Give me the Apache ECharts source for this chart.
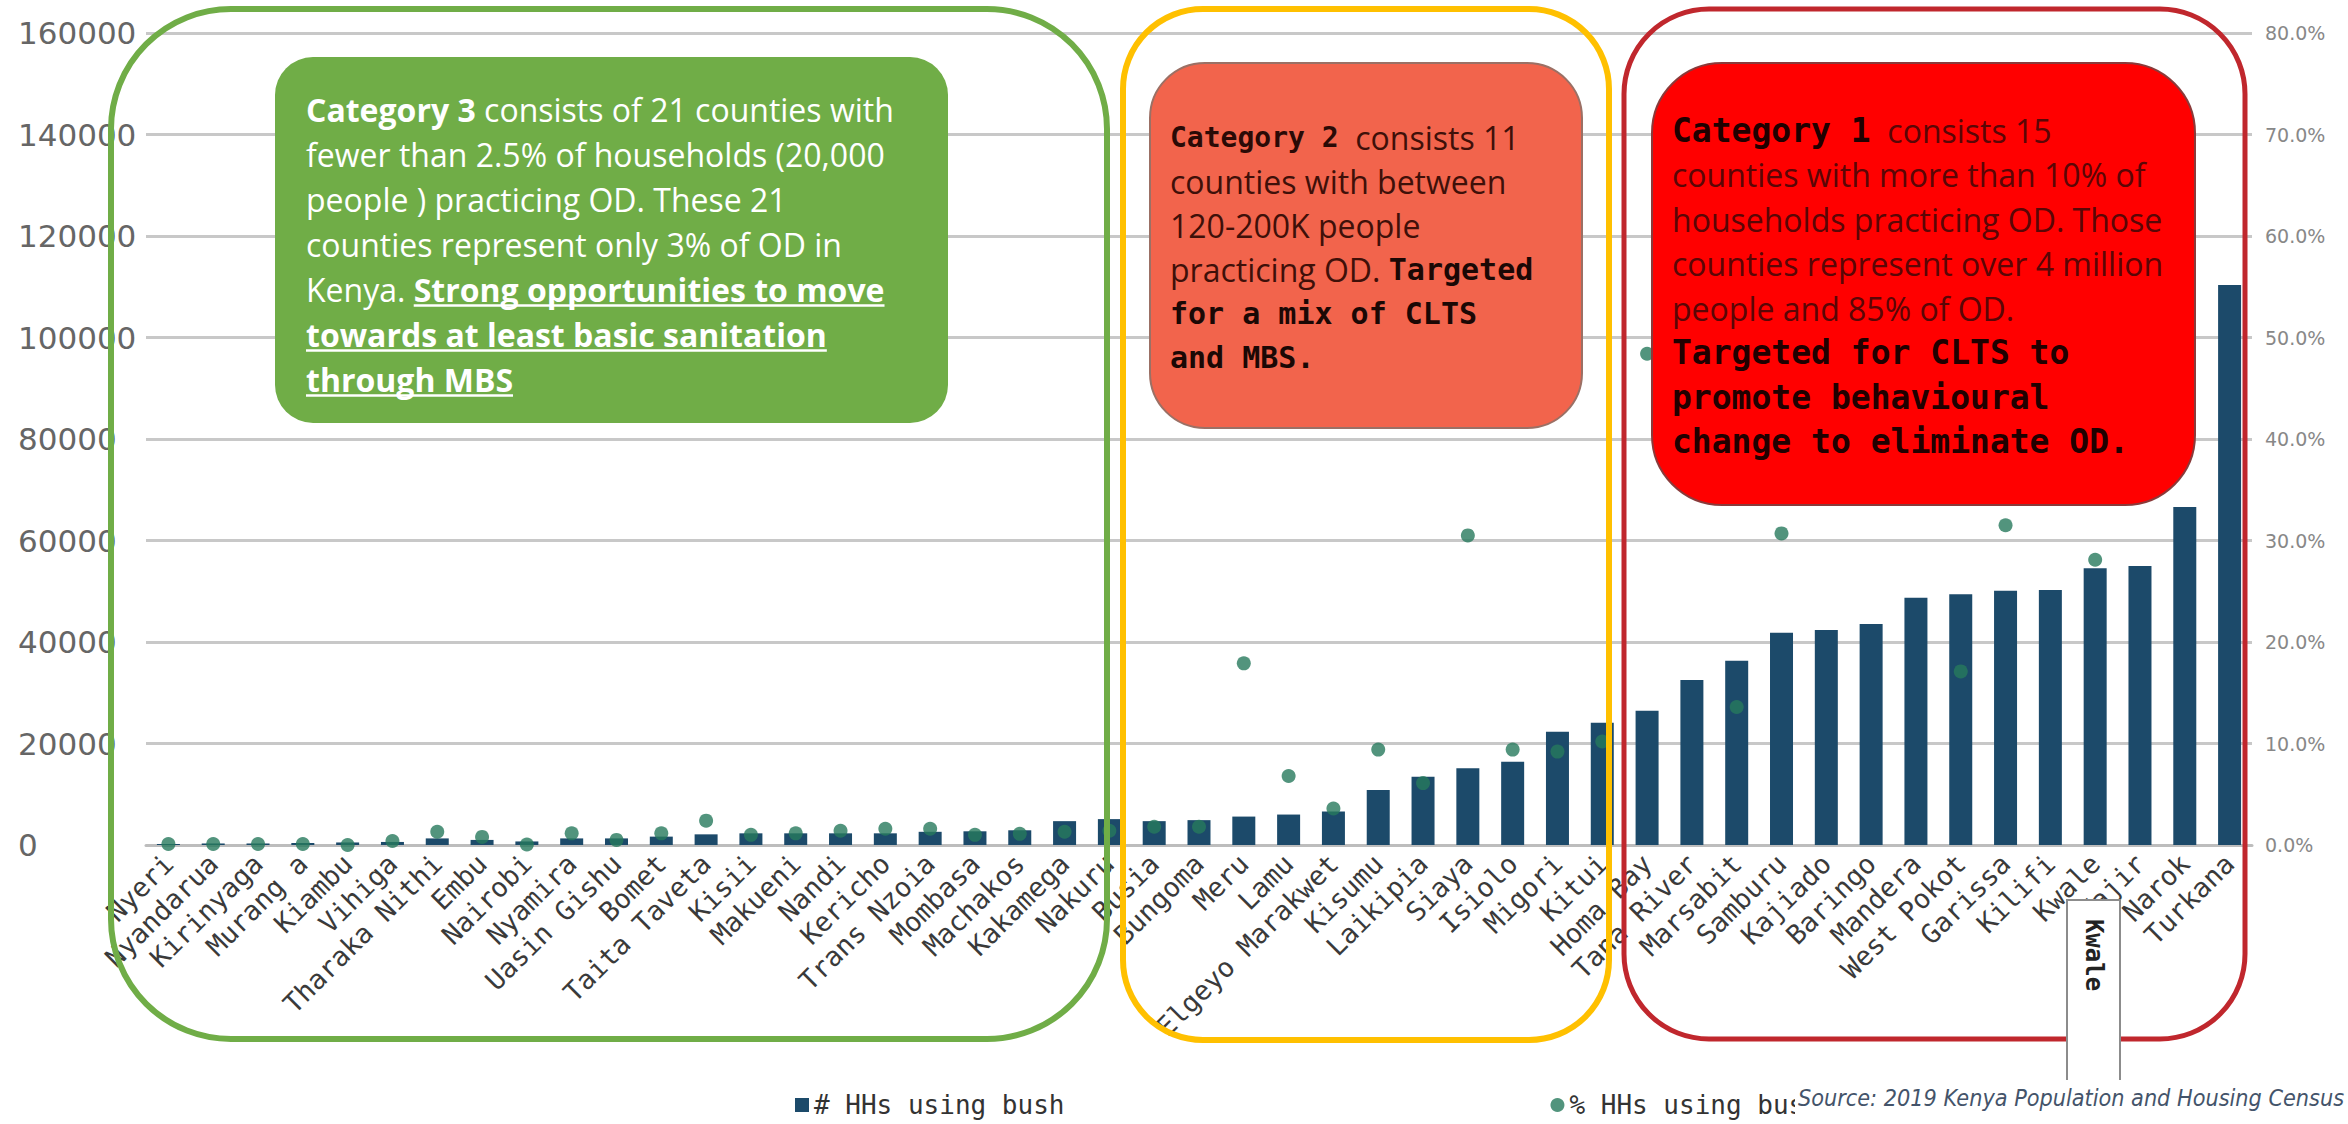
<!DOCTYPE html>
<html><head><meta charset="utf-8">
<script src="https://cdn.jsdelivr.net/npm/echarts@6/dist/echarts.min.js"></script>
<style>html,body{margin:0;padding:0;background:#fff}#c{width:2348px;height:1124px}</style>
</head><body><div id="c"></div>
<script>
const counties = ["Nyeri","Nyandarua","Kirinyaga","Murang a","Kiambu","Vihiga","Tharaka Nithi","Embu","Nairobi","Nyamira","Uasin Gishu","Bomet","Taita Taveta","Kisii","Makueni","Nandi","Kericho","Trans Nzoia","Mombasa","Machakos","Kakamega","Nakuru","Busia","Bungoma","Meru","Lamu","Elgeyo Marakwet","Kisumu","Laikipia","Siaya","Isiolo","Migori","Kitui","Homa Bay","Tana River","Marsabit","Samburu","Kajiado","Baringo","Mandera","West Pokot","Garissa","Kilifi","Kwale","Wajir","Narok","Turkana"];
const households = [200,300,300,400,500,600,1300,1000,700,1300,1300,1650,2100,2300,2300,2300,2300,2600,2700,2900,4700,5100,4700,4900,5600,6000,6600,10840,13460,15110,16420,22330,24100,26460,32510,36320,41840,42360,43550,48730,49400,50110,50250,54520,54980,66600,110340];
const percentHH = [0.1,0.1,0.1,0.1,0,0.4,1.3,0.8,0.05,1.15,0.5,1.15,2.4,1.0,1.15,1.4,1.6,1.6,1.0,1.1,1.3,1.4,1.8,1.8,17.9,6.8,3.6,9.4,6.1,30.5,9.4,9.2,10.2,48.4,44.0,13.6,30.7,40.5,47.0,61.0,17.1,31.5,36.0,28.1,66.0,50.0,null];
const seriesNames = ["# HHs using bush", "% HHs using bush"];
const leftAxis = {min: 0, max: 160000, interval: 20000};
const rightAxis = {min: 0, max: 80, interval: 10};
const sourceText = "Source: 2019 Kenya Population and Housing Census";

const chart = echarts.init(document.getElementById('c'), null, {renderer: 'svg'});

const measure = (() => {
  const cv = document.createElement('canvas').getContext('2d');
  return (txt, font) => { cv.font = font; return cv.measureText(txt).width; };
})();

// Green box text
const gFont = '"Open Sans", "Lato", sans-serif';
const gSize = 32, gLH = 45, gX = 306, gTop = 87;
const greenText = [
  '{b|Category 3}{n| consists of 21 counties with}',
  '{n|fewer than 2.5% of households (20,000}',
  '{n|people ) practicing OD. These 21}',
  '{n|counties represent only 3% of OD in}',
  '{n|Kenya. }{b|Strong opportunities to move}',
  '{b|towards at least basic sanitation}',
  '{b|through MBS}'
].join('\n');
const underlines = [
  {line: 4, pre: 'Kenya. ', txt: 'Strong opportunities to move'},
  {line: 5, pre: '', txt: 'towards at least basic sanitation'},
  {line: 6, pre: '', txt: 'through MBS'}
].map(u => {
  const x0 = gX + measure(u.pre, gSize + 'px ' + gFont);
  const w = measure(u.txt, 'bold ' + gSize + 'px ' + gFont);
  const y = gTop + gLH * (u.line + 0.5) + 16;
  return {type: 'line', z: 101, shape: {x1: x0, y1: y, x2: x0 + w, y2: y}, style: {stroke: '#fff', lineWidth: 2.5}};
});

const mono = '"DejaVu Sans Mono", monospace';
const sans = '"Open Sans", "Lato", sans-serif';

const orangeText = [
  '{m2|Category 2}{s|  consists 11}',
  '{s|counties with between}',
  '{s|120-200K people}',
  '{s|practicing OD. }{m|Targeted}',
  '{m|for a mix of CLTS}',
  '{m|and MBS.}'
].join('\n');
const redText = [
  '{m|Category 1}{s|  consists 15}',
  '{s|counties with more than 10% of}',
  '{s|households practicing OD. Those}',
  '{s|counties represent over 4 million}',
  '{s|people and 85% of OD.}',
  '{m|Targeted for CLTS to}',
  '{m|promote behavioural}',
  '{m|change to eliminate OD.}'
].join('\n');

// source text fitted to the right edge
const srcFontFam = '"Liberation Sans Narrow", "DejaVu Sans Condensed", "Open Sans", sans-serif';
const srcX = 1798;
const srcW0 = measure(sourceText, 'italic 25px ' + srcFontFam);
const srcSize = Math.min(27, 25 * (2344 - srcX) / srcW0);

const graphics = [
  // green filled box
  {type: 'rect', z: 100, shape: {x: 275, y: 57, width: 673, height: 366, r: 38}, style: {fill: '#70AD47'}},
  {type: 'text', z: 101, x: gX, y: gTop, style: {
    text: greenText, verticalAlign: 'top', align: 'left', fill: '#fff',
    rich: {
      n: {fontFamily: gFont, fontSize: gSize, lineHeight: gLH, fill: '#fff', color: '#fff'},
      b: {fontFamily: gFont, fontSize: gSize, lineHeight: gLH, fontWeight: 'bold', fill: '#fff', color: '#fff'}
    }}},
  ...underlines,
  // orange box
  {type: 'rect', z: 100, shape: {x: 1150, y: 63, width: 432, height: 365, r: 55}, style: {fill: '#F2644C', stroke: '#9b7065', lineWidth: 2}},
  {type: 'text', z: 101, x: 1170, y: 115, style: {
    text: orangeText, verticalAlign: 'top', align: 'left',
    rich: {
      s: {fontFamily: sans, fontSize: 32, lineHeight: 44, fill: '#3f1009', color: '#3f1009'},
      m: {fontFamily: mono, fontSize: 30, lineHeight: 44, fontWeight: 'bold', fill: '#1b0805', color: '#1b0805'},
      m2: {fontFamily: mono, fontSize: 28, lineHeight: 44, fontWeight: 'bold', fill: '#2a0a06', color: '#2a0a06'}
    }}},
  // red box
  {type: 'rect', z: 100, shape: {x: 1652, y: 63, width: 543, height: 442, r: 70}, style: {fill: '#FF0000', stroke: '#8a3a3a', lineWidth: 2}},
  {type: 'text', z: 101, x: 1672, y: 108, style: {
    text: redText, verticalAlign: 'top', align: 'left',
    rich: {
      s: {fontFamily: sans, fontSize: 32, lineHeight: 44.5, fill: '#5a0606', color: '#5a0606'},
      m: {fontFamily: mono, fontSize: 33, lineHeight: 44.5, fontWeight: 'bold', fill: '#200000', color: '#200000'}
    }}},
  // outlines
  {type: 'rect', z: 102, shape: {x: 111, y: 9, width: 996, height: 1030, r: 120}, style: {fill: 'none', stroke: '#70AD47', lineWidth: 6}},
  {type: 'rect', z: 102, shape: {x: 1123, y: 9, width: 486, height: 1031, r: 80}, style: {fill: 'none', stroke: '#FFC000', lineWidth: 6}},
  {type: 'rect', z: 102, shape: {x: 1624, y: 9, width: 621, height: 1030, r: 85}, style: {fill: 'none', stroke: '#C0272D', lineWidth: 5}},
  // Kwale tag
  {type: 'rect', z: 103, shape: {x: 2067, y: 900, width: 53, height: 183}, style: {fill: '#fff', stroke: '#8c8c8c', lineWidth: 2}},
  {type: 'text', z: 104, x: 2094, y: 955, rotation: -Math.PI / 2, style: {text: 'Kwale', align: 'center', verticalAlign: 'middle', font: 'bold 24px "DejaVu Sans Mono", monospace', fill: '#222'}},
  // source (white backing covers the end of the 2nd legend label)
  {type: 'rect', z: 104, shape: {x: srcX - 3, y: 1080, width: 2348 - srcX + 3, height: 38}, style: {fill: '#fff'}},
  {type: 'text', z: 105, x: srcX, y: 1097, style: {text: sourceText, align: 'left', verticalAlign: 'middle',
    font: 'italic ' + srcSize.toFixed(2) + 'px ' + srcFontFam, fill: '#44546A'}}
];

chart.setOption({
  animation: false,
  backgroundColor: '#fff',
  grid: {left: 146, right: 96, top: 33, bottom: 279, containLabel: false},
  legend: {
    z: 1, left: 795, top: 1092, itemGap: 486, itemWidth: 14, itemHeight: 14, padding: 0,
    textStyle: {fontFamily: 'DejaVu Sans Mono', fontSize: 26, color: '#333'},
    data: [{name: seriesNames[0], icon: 'rect'}, {name: seriesNames[1], icon: 'circle'}]
  },
  xAxis: {
    type: 'category', data: counties, boundaryGap: true,
    axisTick: {show: false},
    axisLine: {lineStyle: {color: '#bdbdbd', width: 3}},
    axisLabel: {rotate: 45, interval: 0, margin: 14, fontFamily: 'DejaVu Sans Mono', fontSize: 27, color: '#3a3a3a'}
  },
  yAxis: [
    {type: 'value', position: 'left', min: leftAxis.min, max: leftAxis.max, interval: leftAxis.interval,
      axisLine: {show: false}, axisTick: {show: false},
      axisLabel: {align: 'left', margin: 128, fontFamily: 'DejaVu Sans', fontSize: 31, color: '#666', formatter: v => String(v)},
      splitLine: {lineStyle: {color: '#c8c8c8', width: 3}}},
    {type: 'value', position: 'right', min: rightAxis.min, max: rightAxis.max, interval: rightAxis.interval,
      axisLine: {show: false}, axisTick: {show: false},
      axisLabel: {margin: 13, fontFamily: 'DejaVu Sans', fontSize: 19, color: '#888', formatter: v => v.toFixed(1) + '%'},
      splitLine: {show: false}}
  ],
  series: [
    {name: seriesNames[0], type: 'bar', data: households, barWidth: 23, itemStyle: {color: '#1c4a6a'}},
    {name: seriesNames[1], type: 'scatter', yAxisIndex: 1, data: percentHH, symbolSize: 14, itemStyle: {color: '#27795d'}}
  ],
  graphic: graphics
});
</script></body></html>
